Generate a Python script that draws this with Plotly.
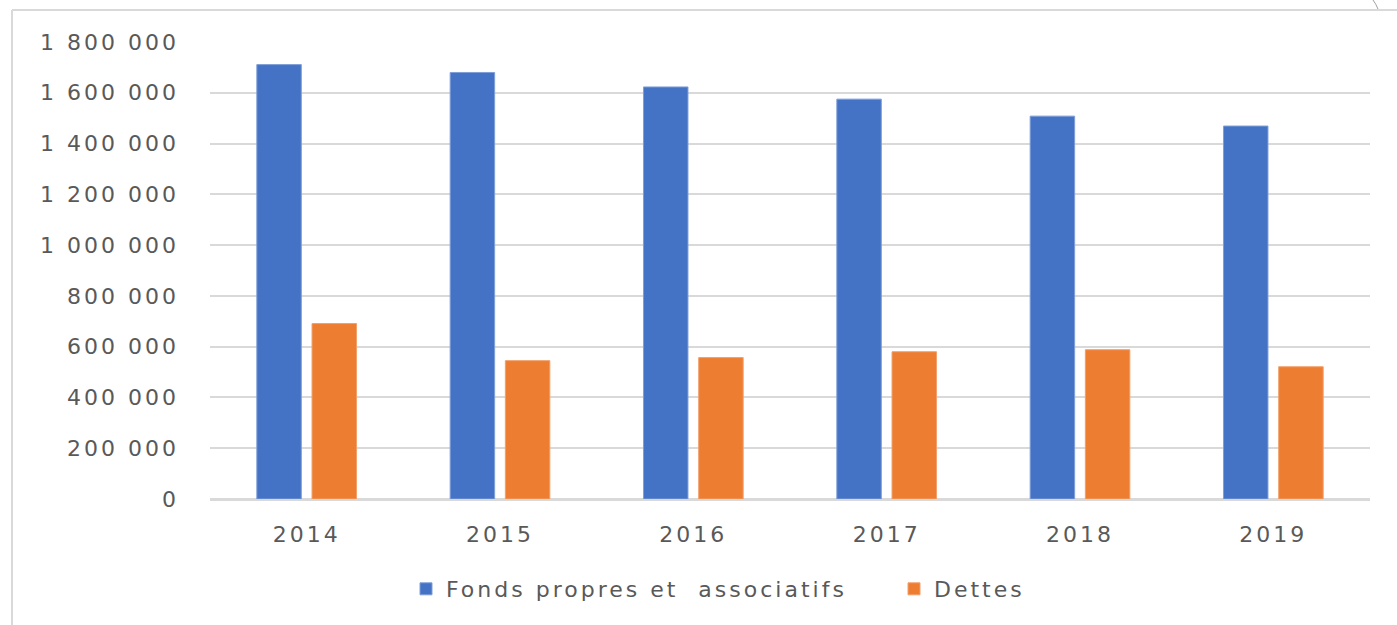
import plotly.graph_objects as go

years = ["2014", "2015", "2016", "2017", "2018", "2019"]
fonds_propres = [1711000, 1680000, 1623000, 1575000, 1508000, 1469000]
dettes = [691000, 545000, 557000, 580000, 588000, 521000]
y_ticks = [0, 200000, 400000, 600000, 800000, 1000000, 1200000, 1400000, 1600000, 1800000]
y_tick_labels = ["0", "200 000", "400 000", "600 000", "800 000", "1 000 000",
                 "1 200 000", "1 400 000", "1 600 000", "1 800 000"]

W, H = 1397, 625
L, R, T, B = 210, 27, 42, 126
pw, ph = W - L - R, H - T - B

def px(x):
    return (x - L) / pw

def py(y):
    return (H - B - y) / ph

font_family = "DejaVu Sans"
grey = "#595959"
fs = 22

fig = go.Figure()
fig.add_trace(go.Bar(x=years, y=fonds_propres, name="Fonds propres et  associatifs",
                     marker=dict(color="#4472C4", line=dict(color="#7f9fd8", width=1))))
fig.add_trace(go.Bar(x=years, y=dettes, name="Dettes",
                     marker=dict(color="#ED7D31", line=dict(color="#f2a06c", width=1))))

fig.update_layout(
    width=W, height=H,
    margin=dict(l=L, r=R, t=T, b=B, pad=0),
    paper_bgcolor="white", plot_bgcolor="white",
    barmode="group", bargap=0.429, bargroupgap=0.194,
    font=dict(family=font_family, size=fs, color=grey),
    showlegend=True,
    legend=dict(orientation="h", x=px(406), xanchor="left", y=py(589), yanchor="middle",
                font=dict(family=font_family, size=fs, color=grey),
                itemwidth=30, traceorder="normal",
                entrywidth=443, entrywidthmode="pixels"),
    xaxis=dict(showgrid=False, showline=True, linecolor="#d9d9d9", linewidth=2,
               ticks="", tickfont=dict(family=font_family, size=fs, color=grey),
               ticklabelstandoff=15),
    yaxis=dict(range=[0, 1800000], tickvals=y_ticks, ticktext=y_tick_labels,
               showgrid=True, gridcolor="#d9d9d9", gridwidth=2,
               zeroline=True, zerolinecolor="#d9d9d9", zerolinewidth=2,
               showline=False, ticks="",
               tickfont=dict(family=font_family, size=fs, color=grey),
               ticklabelstandoff=30),
    shapes=[
        dict(type="line", xref="paper", yref="paper", x0=px(12), x1=px(12), y0=py(10), y1=py(625),
             line=dict(color="#d9d9d9", width=2)),
        dict(type="line", xref="paper", yref="paper", x0=px(12), x1=px(1397), y0=py(10), y1=py(10),
             line=dict(color="#d9d9d9", width=2)),
        dict(type="path", xref="paper", yref="paper",
             path=f"M {px(1373)} {py(0)} Q {px(1376)} {py(4)} {px(1378)} {py(9)}",
             line=dict(color="#a0a0a0", width=1)),
    ],
)

post = """
var s = document.createElement('style');
s.innerHTML = 'html,body{margin:0;padding:0;overflow:hidden} text{letter-spacing:3px}';
document.head.appendChild(s);
var gd = document.getElementById('{plot_id}');
return Plotly.newPlot(gd, gd.data, gd.layout, {displayModeBar: false});
"""

fig.write_html("out.html", post_script=post, config={"displayModeBar": False})
